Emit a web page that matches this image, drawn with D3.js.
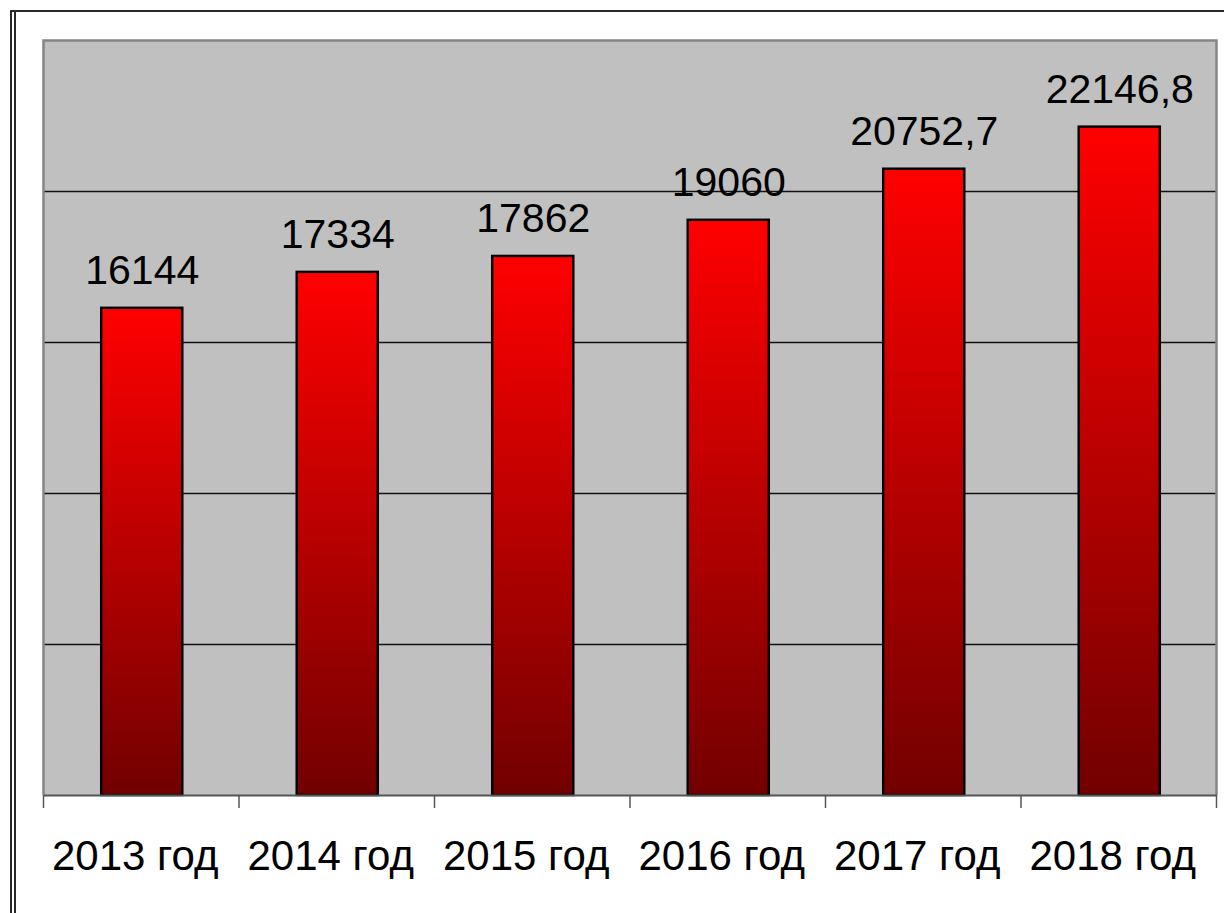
<!DOCTYPE html>
<html>
<head>
<meta charset="utf-8">
<script src="https://cdn.jsdelivr.net/npm/d3@7"></script>
<style>
  html, body { margin: 0; padding: 0; background: #fff; }
  svg { display: block; }
</style>
</head>
<body>
<svg id="chart" width="1224" height="913"></svg>
<script>
const categories = ["2013 год", "2014 год", "2015 год", "2016 год", "2017 год", "2018 год"];
const values = [16144, 17334, 17862, 19060, 20752.7, 22146.8];
const valueLabels = ["16144", "17334", "17862", "19060", "20752,7", "22146,8"];
const yTicks = [0, 5000, 10000, 15000, 20000, 25000];

const svg = d3.select("#chart");
const W = 1224, H = 913;
const plot = { left: 43.5, right: 1216.5, top: 40.5, bottom: 795 };

// outer frame (double line left)
svg.append("rect").attr("x", 11).attr("y", 11).attr("width", W + 20).attr("height", H + 20)
  .attr("fill", "none").attr("stroke", "#111").attr("stroke-width", 1.8);
svg.append("line").attr("x1", 15).attr("x2", 15).attr("y1", 12).attr("y2", H)
  .attr("stroke", "#111").attr("stroke-width", 1.8);

const x = d3.scaleBand().domain(categories).range([plot.left, plot.right]).padding(0);
const y = d3.scaleLinear().domain([0, 25000]).range([plot.bottom, plot.top]);

// plot background
svg.append("rect")
  .attr("x", plot.left).attr("y", plot.top)
  .attr("width", plot.right - plot.left).attr("height", plot.bottom - plot.top)
  .attr("fill", "#c0c0c0");

// gridlines
svg.append("g").selectAll("line")
  .data(yTicks.filter(t => t > 0 && t < 25000))
  .join("line")
  .attr("x1", plot.left).attr("x2", plot.right)
  .attr("y1", d => Math.round(y(d)) + 0.5).attr("y2", d => Math.round(y(d)) + 0.5)
  .attr("stroke", "#111").attr("stroke-width", 1.5);

// border of plot area (top, right, left) in gray
svg.append("path")
  .attr("d", `M${plot.left},${plot.bottom} V${plot.top} H${plot.right} V${plot.bottom}`)
  .attr("fill", "none").attr("stroke", "#858585").attr("stroke-width", 2.5);

// gradient
const defs = svg.append("defs");
const grad = defs.append("linearGradient").attr("id", "barGrad")
  .attr("x1", 0).attr("y1", 0).attr("x2", 0).attr("y2", 1);
grad.append("stop").attr("offset", "0%").attr("stop-color", "#ff0000");
grad.append("stop").attr("offset", "100%").attr("stop-color", "#720000");

const barW = x.bandwidth() * 0.415;
svg.append("g").selectAll("rect")
  .data(values)
  .join("rect")
  .attr("x", (d, i) => x(categories[i]) + x.bandwidth() / 2 - barW / 2 + 0.5)
  .attr("y", d => y(d))
  .attr("width", barW)
  .attr("height", d => plot.bottom - y(d))
  .attr("fill", "url(#barGrad)")
  .attr("stroke", "#000").attr("stroke-width", 2.4);

// value labels
svg.append("g").selectAll("text")
  .data(values)
  .join("text")
  .attr("x", (d, i) => x(categories[i]) + x.bandwidth() / 2 + 1)
  .attr("y", d => y(d) - 24)
  .attr("text-anchor", "middle")
  .attr("font-family", "Liberation Sans, Arial, sans-serif")
  .attr("font-size", 41)
  .attr("fill", "#000")
  .text((d, i) => valueLabels[i]);

// x axis
const xAxis = d3.axisBottom(x).tickSize(0).tickFormat("");
const ax = svg.append("g").attr("transform", `translate(0,${plot.bottom})`).call(xAxis);
ax.select(".domain").attr("stroke", "#555").attr("stroke-width", 2);
// tick marks at band boundaries
const bounds = categories.map(c => x(c)).concat([plot.right]);
svg.append("g").selectAll("line").data(bounds).join("line")
  .attr("x1", d => d).attr("x2", d => d)
  .attr("y1", plot.bottom).attr("y2", plot.bottom + 13)
  .attr("stroke", "#555").attr("stroke-width", 1.5);

svg.append("g").selectAll("text")
  .data(categories)
  .join("text")
  .attr("x", d => x(d) + x.bandwidth() / 2 - 6)
  .attr("y", 870)
  .attr("text-anchor", "middle")
  .attr("font-family", "Liberation Sans, Arial, sans-serif")
  .attr("font-size", 42)
  .attr("fill", "#000")
  .text(d => d);
</script>
</body>
</html>
